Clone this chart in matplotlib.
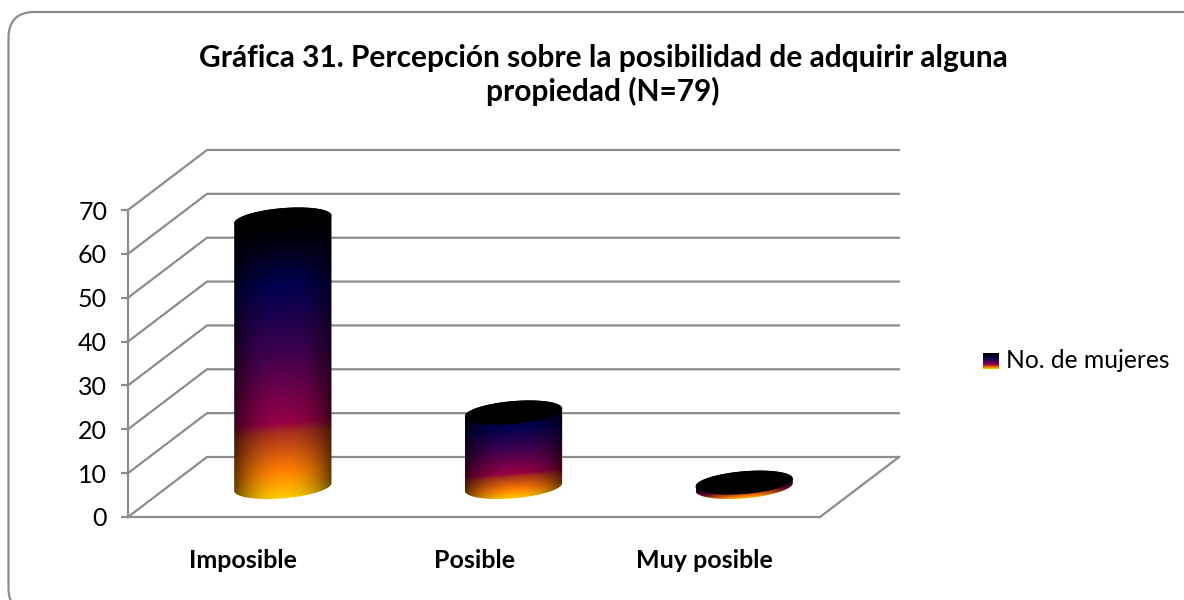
import numpy as np
import matplotlib
matplotlib.use('Agg')
import matplotlib.pyplot as plt
from matplotlib.patches import FancyBboxPatch, PathPatch, Polygon
from matplotlib.path import Path
from matplotlib.transforms import IdentityTransform

categorias = ['Imposible', 'Posible', 'Muy posible']
valores = [61, 17, 1]
marcas_y = [0, 10, 20, 30, 40, 50, 60, 70]
serie = 'No. de mujeres'
titulo = 'Gráfica 31. Percepción sobre la posibilidad de adquirir alguna\npropiedad (N=79)'

W, H = 1184, 600
GRIS = '#8c8c8c'
GROSOR = 1.6
FUENTE = 'Lato'

# plano frontal del grafico, en pixeles
X0, X1, Y0, Y1 = 128, 820, 517, 210
PX_X = 3 / (X1 - X0)
PX_Y = 70 / (Y0 - Y1)
DX = 79 * PX_X   # profundidad
DY = 60 * PX_Y
RAD_X = 46 * PX_X

# degradado de arriba a abajo
pos = [0, 0.10, 0.27, 0.49, 0.74, 0.775, 0.91, 1]
rojo = [0, 0, 0, 60, 150, 170, 255, 255]
verde = [0, 0, 0, 0, 0, 50, 130, 205]
azul = [0, 10, 80, 80, 70, 30, 0, 0]

fig = plt.figure(figsize=(W / 100, H / 100), dpi=100)

# marco redondeado, se sale por la derecha y por abajo
marco = FancyBboxPatch((8.5, -14), W + 24, H + 2, boxstyle='round,pad=0,rounding_size=26',
                       transform=IdentityTransform(), fc='white', ec=GRIS, lw=GROSOR, zorder=-1)
fig.add_artist(marco)

ax = fig.add_axes([X0 / W, 1 - Y0 / H, (X1 - X0) / W, (Y0 - Y1) / H])
ax.patch.set_visible(False)
for lado in ['top', 'right']:
    ax.spines[lado].set_visible(False)
for lado in ['left', 'bottom']:
    ax.spines[lado].set_color(GRIS)
    ax.spines[lado].set_linewidth(GROSOR)

# paredes y piso
for v in marcas_y:
    ax.plot([0, DX, 3 + DX], [v, v + DY, v + DY], color=GRIS, lw=GROSOR, clip_on=False, zorder=1)
ax.plot([3, 3 + DX], [0, DY], color=GRIS, lw=GROSOR, clip_on=False, zorder=1)


def degradado(f):
    return np.stack([np.interp(f, pos, c) for c in (rojo, verde, azul)], axis=-1) / 255


def disco(cx, cy, t):
    return np.column_stack([cx + RAD_X * np.cos(t) + 0.2 * DX * np.sin(t), cy + 0.2 * DY * np.sin(t)])


t_der = np.arctan2(0.2 * DX, RAD_X)
for i, v in enumerate(valores):
    cx = i + 0.5 + DX / 2
    base = DY / 2
    arriba = disco(cx, base + v, np.linspace(t_der, t_der + np.pi, 60))
    abajo = disco(cx, base, np.linspace(t_der + np.pi, t_der + 2 * np.pi, 60))
    contorno = np.vstack([arriba, abajo, arriba[:1]])
    forma = Path(contorno, closed=True)
    x_min, x_max = contorno[:, 0].min(), contorno[:, 0].max()
    y_min, y_max = contorno[:, 1].min(), contorno[:, 1].max()

    px = np.linspace(-1, 1, 100)
    py = np.linspace(0, 1, 300)
    gx, gy = np.meshgrid(px, py)
    # las bandas suben un poco hacia la derecha
    gy = np.clip(gy + gx * 4 * PX_Y / (y_max - y_min), 0, 1)
    img = degradado(gy) * (1 - 0.6 * np.abs(gx) ** 2.2)[..., None]
    im = ax.imshow(img, extent=[x_min, x_max, y_min, y_max], aspect='auto', origin='upper',
                   interpolation='bilinear', zorder=3)
    parche = PathPatch(forma, transform=ax.transData, fc='none', ec='none')
    ax.add_patch(parche)
    im.set_clip_path(parche)
    im.set_clip_box(fig.bbox)
    tapa = disco(cx, base + v, np.linspace(0, 2 * np.pi, 120))
    ax.add_patch(Polygon(tapa, closed=True, fc='black', ec='none', clip_on=False, zorder=4))

ax.set_xlim(0, 3)
ax.set_ylim(0, 70)
ax.set_xticks([0.5, 1.5, 2.5])
ax.set_xticklabels(categorias, fontfamily=FUENTE, fontweight='bold', fontsize=18)
ax.set_yticks(marcas_y)
ax.set_yticklabels(marcas_y, fontfamily=FUENTE, fontsize=18)
ax.tick_params(axis='x', length=0, pad=23)
ax.tick_params(axis='y', length=5, width=GROSOR, color=GRIS, pad=10)

fig.text(603 / W, 1 - 75 / H, titulo, ha='center', va='center', fontfamily=FUENTE, fontweight='bold',
         fontsize=21.5, linespacing=1.2)

# leyenda
ax_ley = fig.add_axes([983 / W, 1 - 369 / H, 16 / W, 16 / H])
ax_ley.imshow(degradado(np.linspace(0, 1, 32))[:, None, :], aspect='auto')
ax_ley.axis('off')
fig.text(1006 / W, 1 - 361 / H, serie, ha='left', va='center', fontfamily=FUENTE, fontsize=17.7)

fig.savefig('out.png', dpi=100)
